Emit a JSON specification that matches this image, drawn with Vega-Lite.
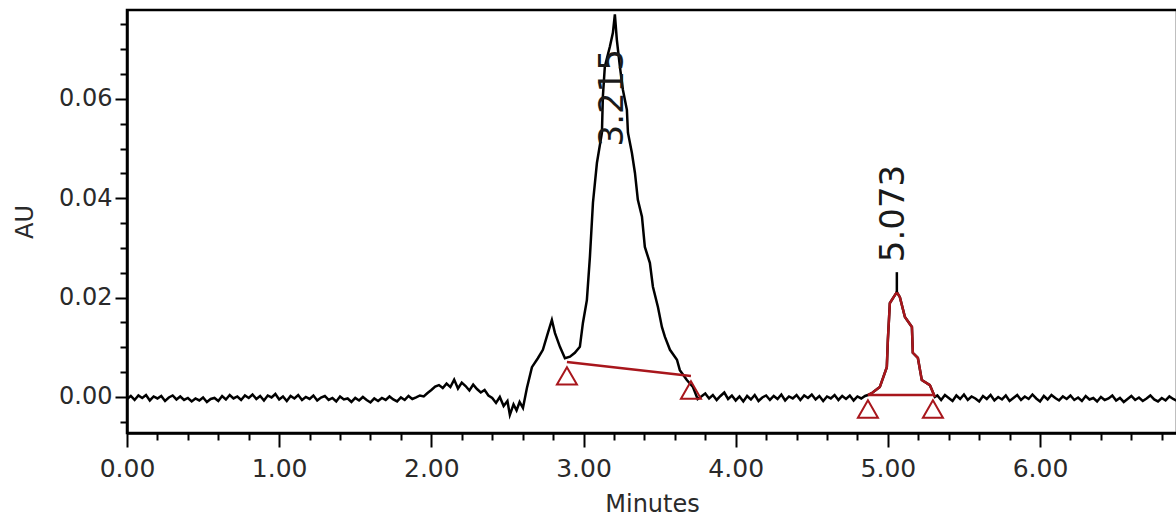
{
  "$schema": "https://vega.github.io/schema/vega-lite/v6.json",
  "width": 1050,
  "height": 423,
  "autosize": {"type": "none"},
  "padding": {"left": 127, "top": 10, "right": 0, "bottom": 89},
  "background": "white",
  "view": {"stroke": "black", "strokeWidth": 2.5},
  "datasets": {
    "trace": [
      {"t":0.000,"v":-0.0004},{"t":0.025,"v":0.0002},{"t":0.050,"v":-0.0006},{"t":0.075,"v":0.0003},{"t":0.100,"v":-0.0002},{"t":0.125,"v":0.0004},{"t":0.150,"v":-0.0007},{"t":0.175,"v":0.0001},{"t":0.200,"v":-0.0003},{"t":0.225,"v":0.0002},{"t":0.250,"v":-0.0008},{"t":0.275,"v":-0.0001},{"t":0.300,"v":0.0003},{"t":0.325,"v":-0.0005},{"t":0.350,"v":0.0001},{"t":0.375,"v":-0.0006},{"t":0.400,"v":-0.0002},{"t":0.425,"v":-0.0009},{"t":0.450,"v":-0.0003},{"t":0.475,"v":-0.0007},{"t":0.500,"v":-0.0001},{"t":0.525,"v":-0.0010},{"t":0.550,"v":-0.0004},{"t":0.575,"v":-0.0002},{"t":0.600,"v":-0.0008},{"t":0.625,"v":0.0002},{"t":0.650,"v":-0.0005},{"t":0.675,"v":0.0004},{"t":0.700,"v":-0.0003},{"t":0.725,"v":0.0001},{"t":0.750,"v":-0.0006},{"t":0.775,"v":0.0003},{"t":0.800,"v":-0.0002},{"t":0.825,"v":0.0005},{"t":0.850,"v":-0.0004},{"t":0.875,"v":0.0002},{"t":0.900,"v":-0.0007},{"t":0.925,"v":0.0003},{"t":0.950,"v":-0.0001},{"t":0.975,"v":0.0006},{"t":1.000,"v":-0.0005},{"t":1.025,"v":0.0001},{"t":1.050,"v":-0.0008},{"t":1.075,"v":0.0002},{"t":1.100,"v":-0.0003},{"t":1.125,"v":0.0004},{"t":1.150,"v":-0.0006},{"t":1.175,"v":0.0000},{"t":1.200,"v":-0.0004},{"t":1.225,"v":0.0003},{"t":1.250,"v":-0.0007},{"t":1.275,"v":-0.0001},{"t":1.300,"v":0.0002},{"t":1.325,"v":-0.0006},{"t":1.350,"v":-0.0002},{"t":1.375,"v":-0.0009},{"t":1.400,"v":0.0001},{"t":1.425,"v":-0.0005},{"t":1.450,"v":-0.0003},{"t":1.475,"v":-0.0010},{"t":1.500,"v":-0.0002},{"t":1.525,"v":-0.0007},{"t":1.550,"v":0.0000},{"t":1.575,"v":-0.0006},{"t":1.600,"v":-0.0011},{"t":1.625,"v":-0.0003},{"t":1.650,"v":-0.0008},{"t":1.675,"v":-0.0002},{"t":1.700,"v":-0.0006},{"t":1.725,"v":0.0001},{"t":1.750,"v":-0.0005},{"t":1.775,"v":-0.0009},{"t":1.800,"v":-0.0001},{"t":1.825,"v":-0.0006},{"t":1.850,"v":0.0002},{"t":1.875,"v":-0.0004},{"t":1.900,"v":-0.0001},{"t":1.925,"v":0.0003},{"t":1.950,"v":0.0001},
      {"t":1.975,"v":0.0008},{"t":2.000,"v":0.0014},{"t":2.025,"v":0.0021},{"t":2.050,"v":0.0024},{"t":2.075,"v":0.0018},{"t":2.100,"v":0.0027},{"t":2.125,"v":0.0020},{"t":2.150,"v":0.0035},{"t":2.175,"v":0.0017},{"t":2.200,"v":0.0029},{"t":2.225,"v":0.0022},{"t":2.250,"v":0.0013},{"t":2.275,"v":0.0025},{"t":2.300,"v":0.0016},{"t":2.325,"v":0.0009},{"t":2.350,"v":0.0014},{"t":2.375,"v":0.0003},{"t":2.400,"v":-0.0002},{"t":2.425,"v":-0.0012},{"t":2.450,"v":0.0000},{"t":2.475,"v":-0.0018},{"t":2.500,"v":-0.0008},{"t":2.516,"v":-0.0036},{"t":2.540,"v":-0.0015},{"t":2.560,"v":-0.0027},{"t":2.580,"v":-0.0010},{"t":2.602,"v":-0.0022},
      {"t":2.628,"v":0.0018},{"t":2.661,"v":0.0060},{"t":2.700,"v":0.0078},{"t":2.733,"v":0.0095},{"t":2.766,"v":0.0129},{"t":2.792,"v":0.0155},{"t":2.812,"v":0.0129},{"t":2.845,"v":0.0101},{"t":2.878,"v":0.0078},{"t":2.911,"v":0.0081},{"t":2.943,"v":0.0089},{"t":2.976,"v":0.0101},{"t":2.996,"v":0.0149},{"t":3.022,"v":0.0195},{"t":3.042,"v":0.0282},{"t":3.062,"v":0.0391},{"t":3.088,"v":0.0471},{"t":3.121,"v":0.0532},{"t":3.127,"v":0.0604},{"t":3.140,"v":0.0665},{"t":3.173,"v":0.0705},{"t":3.193,"v":0.0733},{"t":3.206,"v":0.0770},{"t":3.219,"v":0.0719},{"t":3.239,"v":0.0665},{"t":3.259,"v":0.0618},{"t":3.285,"v":0.0578},{"t":3.292,"v":0.0532},{"t":3.318,"v":0.0491},{"t":3.338,"v":0.0451},{"t":3.357,"v":0.0397},{"t":3.384,"v":0.0363},{"t":3.403,"v":0.0302},{"t":3.436,"v":0.0270},{"t":3.456,"v":0.0222},{"t":3.489,"v":0.0181},{"t":3.515,"v":0.0141},{"t":3.535,"v":0.0121},{"t":3.568,"v":0.0095},{"t":3.614,"v":0.0075},{"t":3.633,"v":0.0054},{"t":3.679,"v":0.0034},{"t":3.719,"v":0.0020},{"t":3.750,"v":-0.0004},{"t":3.778,"v":0.0002},
      {"t":3.800,"v":0.0007},{"t":3.825,"v":-0.0003},{"t":3.850,"v":0.0004},{"t":3.875,"v":-0.0006},{"t":3.900,"v":0.0002},{"t":3.925,"v":0.0009},{"t":3.950,"v":-0.0004},{"t":3.975,"v":0.0003},{"t":4.000,"v":-0.0007},{"t":4.025,"v":0.0001},{"t":4.050,"v":-0.0009},{"t":4.075,"v":0.0002},{"t":4.100,"v":-0.0005},{"t":4.125,"v":0.0004},{"t":4.150,"v":-0.0008},{"t":4.175,"v":-0.0001},{"t":4.200,"v":0.0003},{"t":4.225,"v":-0.0006},{"t":4.250,"v":0.0002},{"t":4.275,"v":-0.0004},{"t":4.300,"v":0.0005},{"t":4.325,"v":-0.0007},{"t":4.350,"v":0.0001},{"t":4.375,"v":-0.0003},{"t":4.400,"v":0.0004},{"t":4.425,"v":-0.0006},{"t":4.450,"v":0.0003},{"t":4.475,"v":-0.0002},{"t":4.500,"v":0.0005},{"t":4.525,"v":-0.0005},{"t":4.550,"v":0.0002},{"t":4.575,"v":-0.0008},{"t":4.600,"v":0.0001},{"t":4.625,"v":-0.0003},{"t":4.650,"v":0.0004},{"t":4.675,"v":-0.0006},{"t":4.700,"v":0.0002},{"t":4.725,"v":-0.0004},{"t":4.750,"v":0.0003},{"t":4.775,"v":-0.0007},{"t":4.800,"v":0.0001},{"t":4.825,"v":-0.0003},{"t":4.850,"v":0.0002},
      {"t":4.869,"v":0.0004},{"t":4.900,"v":0.0009},{"t":4.947,"v":0.0020},{"t":4.993,"v":0.0060},{"t":5.000,"v":0.0115},{"t":5.013,"v":0.0189},{"t":5.059,"v":0.0211},{"t":5.079,"v":0.0201},{"t":5.112,"v":0.0161},{"t":5.158,"v":0.0141},{"t":5.164,"v":0.0089},{"t":5.197,"v":0.0079},{"t":5.223,"v":0.0034},{"t":5.276,"v":0.0024},{"t":5.309,"v":0.0000},
      {"t":5.325,"v":0.0003},{"t":5.350,"v":-0.0006},{"t":5.375,"v":0.0004},{"t":5.400,"v":-0.0002},{"t":5.425,"v":-0.0008},{"t":5.450,"v":0.0003},{"t":5.475,"v":-0.0004},{"t":5.500,"v":0.0005},{"t":5.525,"v":-0.0006},{"t":5.550,"v":0.0001},{"t":5.575,"v":-0.0003},{"t":5.600,"v":-0.0009},{"t":5.625,"v":0.0002},{"t":5.650,"v":-0.0004},{"t":5.675,"v":0.0004},{"t":5.700,"v":-0.0007},{"t":5.725,"v":0.0000},{"t":5.750,"v":-0.0005},{"t":5.775,"v":0.0003},{"t":5.800,"v":-0.0008},{"t":5.825,"v":-0.0002},{"t":5.850,"v":0.0004},{"t":5.875,"v":-0.0006},{"t":5.900,"v":0.0001},{"t":5.925,"v":-0.0004},{"t":5.950,"v":0.0005},{"t":5.975,"v":-0.0003},{"t":6.000,"v":-0.0009},{"t":6.025,"v":0.0002},{"t":6.050,"v":-0.0005},{"t":6.075,"v":0.0004},{"t":6.100,"v":-0.0002},{"t":6.125,"v":-0.0007},{"t":6.150,"v":0.0001},{"t":6.175,"v":-0.0004},{"t":6.200,"v":0.0003},{"t":6.225,"v":-0.0006},{"t":6.250,"v":-0.0001},{"t":6.275,"v":-0.0008},{"t":6.300,"v":0.0002},{"t":6.325,"v":-0.0005},{"t":6.350,"v":-0.0002},{"t":6.375,"v":-0.0009},{"t":6.400,"v":0.0000},{"t":6.425,"v":-0.0006},{"t":6.450,"v":-0.0003},{"t":6.475,"v":0.0003},{"t":6.500,"v":-0.0007},{"t":6.525,"v":-0.0002},{"t":6.550,"v":-0.0010},{"t":6.575,"v":-0.0004},{"t":6.600,"v":0.0002},{"t":6.625,"v":-0.0006},{"t":6.650,"v":-0.0001},{"t":6.675,"v":-0.0008},{"t":6.700,"v":-0.0003},{"t":6.725,"v":0.0003},{"t":6.750,"v":-0.0005},{"t":6.775,"v":-0.0009},{"t":6.800,"v":-0.0002},{"t":6.825,"v":-0.0007},{"t":6.850,"v":0.0001},{"t":6.875,"v":-0.0004},{"t":6.900,"v":-0.0008}
    ],
    "baselines": [
      {"peak": 1, "t": 2.891, "v": 0.00705},
      {"peak": 1, "t": 3.706, "v": 0.00423},
      {"peak": 2, "t": 4.869, "v": 0.0004},
      {"peak": 2, "t": 5.296, "v": 0.0004}
    ],
    "peak1": [{"t": 3.206, "v": 0.0770, "label": "3.215"}],
    "peak2": [{"t": 5.059, "v": 0.0211, "label": "5.073"}]
  },
  "encoding": {
    "x": {"field": "t", "type": "quantitative", "scale": {"domain": [0, 6.9], "nice": false, "zero": false},
      "axis": {
        "title": "Minutes",
        "values": [0,0.2,0.4,0.6,0.8,1,1.2,1.4,1.6,1.8,2,2.2,2.4,2.6,2.8,3,3.2,3.4,3.6,3.8,4,4.2,4.4,4.6,4.8,5,5.2,5.4,5.6,5.8,6,6.2,6.4,6.6,6.8],
        "labelExpr": "abs(datum.value - round(datum.value)) < 0.001 ? format(datum.value, '.2f') : ''",
        "tickSize": {"condition": {"test": "abs(datum.value - round(datum.value)) < 0.001", "value": 14}, "value": 7},
        "labelPadding": 9,
        "titlePadding": 11
      }
    },
    "y": {"field": "v", "type": "quantitative", "scale": {"domain": [-0.00725, 0.0779], "nice": false, "zero": false},
      "axis": {
        "title": "AU",
        "values": [-0.005,0,0.005,0.01,0.015,0.02,0.025,0.03,0.035,0.04,0.045,0.05,0.055,0.06,0.065,0.07,0.075],
        "labelExpr": "abs(datum.value*50 - round(datum.value*50)) < 0.001 ? format(datum.value, '.2f') : ''",
        "tickSize": {"condition": {"test": "abs(datum.value*50 - round(datum.value*50)) < 0.001", "value": 12}, "value": 7},
        "labelPadding": 3,
        "titlePadding": 21
      }
    }
  },
  "layer": [
    {"data": {"name": "trace"}, "mark": {"type": "line", "color": "black", "strokeWidth": 2.5}},
    {"data": {"name": "trace"}, "transform": [{"filter": "datum.t >= 4.869 && datum.t <= 5.309"}],
      "mark": {"type": "line", "color": "#a8161c", "strokeWidth": 2.5}},
    {"data": {"name": "baselines"}, "mark": {"type": "line", "color": "#a8161c", "strokeWidth": 2.5},
      "encoding": {"detail": {"field": "peak", "type": "nominal"}}},
    {"data": {"name": "baselines"}, "mark": {"type": "point", "shape": "triangle-up", "size": 400, "filled": false, "stroke": "#a8161c", "strokeWidth": 2, "opacity": 1, "yOffset": 14}},
    {"data": {"name": "peak2"}, "mark": {"type": "point", "shape": "M0,0L0,-1", "size": 1600, "filled": false, "stroke": "black", "strokeWidth": 2.5, "opacity": 1}},
    {"data": {"name": "peak1"}, "mark": {"type": "text", "angle": 270, "align": "left", "baseline": "middle", "dx": -132, "dy": -2, "font": "DejaVu Sans", "fontSize": 34, "color": "#1a1a1a"},
      "encoding": {"text": {"field": "label"}}},
    {"data": {"name": "peak2"}, "mark": {"type": "text", "angle": 270, "align": "left", "baseline": "middle", "dx": 30, "dy": -3, "font": "DejaVu Sans", "fontSize": 34, "color": "#1a1a1a"},
      "encoding": {"text": {"field": "label"}}}
  ],
  "config": {
    "axis": {
      "grid": false,
      "domainColor": "black", "domainWidth": 2.5,
      "tickColor": "black", "tickWidth": 2,
      "labelFont": "DejaVu Sans", "labelFontSize": 24, "labelColor": "#2a2a2a",
      "labelOverlap": false, "labelFlush": false,
      "titleFont": "DejaVu Sans", "titleFontSize": 24, "titleFontWeight": "normal", "titleColor": "#2a2a2a"
    },
    "axisX": {"labelFontSize": 25}
  }
}
